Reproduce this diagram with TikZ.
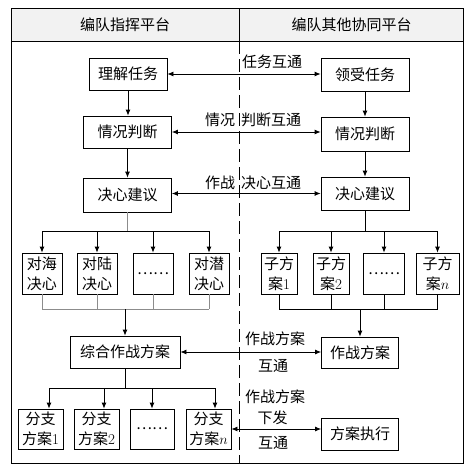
\documentclass[tikz,border=0pt]{standalone}
\usepackage{fontspec}
\newfontfamily\cjk{Noto Sans CJK SC}
\usetikzlibrary{arrows.meta}
\begin{document}
\begin{tikzpicture}[x=1pt,y=-1pt,
  box/.style={draw,line width=0.8pt,inner sep=0pt,align=center,font=\cjk\fontsize{15}{20}\selectfont},
  arr/.style={-{Latex[length=6pt,width=5pt]},line width=0.8pt},
  darr/.style={{Latex[length=6pt,width=5pt]}-{Latex[length=6pt,width=5pt]},line width=0.8pt},
  ln/.style={line width=0.8pt},
  gl/.style={line width=0.8pt,draw=black!45},
  lbl/.style={inner sep=0pt,font=\cjk\fontsize{15}{20}\selectfont},
]
\useasboundingbox (0,0) rectangle (473,474);
% frame and header
\fill[black!5] (11,8) rectangle (463,41);
\draw[ln] (11,8) rectangle (463,463);
\draw[ln] (11,41) -- (463,41);
\draw[ln] (239,8) -- (239,41);
\draw[ln,dash pattern=on 13pt off 5pt] (239,41) -- (239,463);
\node[lbl] (h1) at (125,25) {编队指挥平台};
\node[lbl] (h2) at (351.5,25) {编队其他协同平台};
% main boxes
\node[box,minimum width=78,minimum height=32] (L1) at (128,74) {理解任务};
\node[box,minimum width=88,minimum height=32] (L2) at (127.5,132) {情况判断};
\node[box,minimum width=88,minimum height=34] (L3) at (127.5,195) {决心建议};
\node[box,minimum width=110,minimum height=32] (L4) at (125,352) {综合作战方案};
\node[box,minimum width=88,minimum height=33] (R1) at (365,74.5) {领受任务};
\node[box,minimum width=88,minimum height=34] (R2) at (365,134) {情况判断};
\node[box,minimum width=88,minimum height=33] (R3) at (365,193.5) {决心建议};
\node[box,minimum width=77,minimum height=31] (R4) at (360,352.5) {作战方案};
\node[box,minimum width=77,minimum height=32] (R5) at (360,434) {方案执行};
% sub boxes
\node[box,minimum width=40,minimum height=41] (A1) at (42,273.5) {对海\\决心};
\node[box,minimum width=40,minimum height=41] (A2) at (97,273.5) {对陆\\决心};
\node[box,minimum width=40,minimum height=41] (A3) at (153,273.5) {……};
\node[box,minimum width=40,minimum height=41] (A4) at (209,273.5) {对潜\\决心};
\node[box,minimum width=36,minimum height=41] (C1) at (279,273.5) {子方\\案\textrm{1}};
\node[box,minimum width=36,minimum height=41] (C2) at (331,273.5) {子方\\案\textrm{2}};
\node[box,minimum width=41,minimum height=41] (C3) at (384,273.5) {……};
\node[box,minimum width=43,minimum height=41] (C4) at (437.5,273.5) {子方\\案$n$};
\node[box,minimum width=45,minimum height=40] (B1) at (40.5,429) {分支\\方案\textrm{1}};
\node[box,minimum width=45,minimum height=40] (B2) at (96.5,429) {分支\\方案\textrm{2}};
\node[box,minimum width=44,minimum height=40] (B3) at (152,429) {……};
\node[box,minimum width=45,minimum height=40] (B4) at (208.5,429) {分支\\方案$n$};
% vertical arrows
\draw[arr] (L1.south) -- (L1.south |- L2.north);
\draw[arr] (L2.south) -- (L2.south |- L3.north);
\draw[arr] (R1.south) -- (R1.south |- R2.north);
\draw[arr] (R2.south) -- (R2.south |- R3.north);
% horizontal exchanges
\draw[darr] (L1.east) -- (L1.east -| R1.west);
\draw[darr] (L2.east) -- (L2.east -| R2.west);
\draw[darr] (L3.east |- R3.west) -- (R3.west);
\draw[darr] (L4.east) -- (L4.east -| R4.west);
\draw[darr] (B4.east) -- (B4.east -| R5.west);
% labels
\node[lbl,anchor=west] (t1) at (242,62) {任务互通};
\node[lbl,anchor=west] (t2) at (205,120) {情况\hspace{6pt}判断互通};
\node[lbl,anchor=west] (t3) at (205,183) {作战\hspace{6pt}决心互通};
\node[lbl,anchor=west] (t4) at (245,339) {作战方案};
\node[lbl] (t5) at (273,366) {互通};
\node[lbl,anchor=west] (t6) at (245,397) {作战方案};
\node[lbl] (t7) at (272.5,418) {下发};
\node[lbl] (t8) at (273,443) {互通};
% left branch
\coordinate (lj) at (127.5,231);
\draw[gl] (L3.south) -- (lj);
\draw[ln] (A1.north |- lj) -- (A4.north |- lj);
\foreach \n in {A1,A2,A3,A4} \draw[arr] (\n.north |- lj) -- (\n.north);
\coordinate (lm) at (125,309);
\foreach \n in {A1,A2,A3,A4} \draw[gl] (\n.south) -- (\n.south |- lm);
\draw[gl] (A1.south |- lm) -- (A4.south |- lm);
\draw[arr] (lm) -- (lm |- L4.north);
% right branch
\coordinate (rj) at (365,231);
\draw[ln] (R3.south) -- (rj);
\draw[ln] (C1.north |- rj) -- (C4.north |- rj);
\foreach \n in {C1,C2,C3,C4} \draw[arr] (\n.north |- rj) -- (\n.north);
\coordinate (rm) at (360,309);
\foreach \n in {C1,C2,C3,C4} \draw[ln] (\n.south) -- (\n.south |- rm);
\draw[ln] (C1.south |- rm) -- (C4.south |- rm);
\draw[arr] (rm) -- (R4.north);
% bottom branch
\coordinate (bj) at (125,388);
\draw[ln] (L4.south) -- (bj);
\coordinate (tB1) at (49,388);
\coordinate (tB2) at (104,388);
\coordinate (tB3) at (152,388);
\coordinate (tB4) at (215,388);
\draw[ln] (tB1) -- (tB4);
\foreach \n in {B1,B2,B3,B4} \draw[arr] (t\n) -- (t\n |- \n.north);
\end{tikzpicture}
\end{document}
